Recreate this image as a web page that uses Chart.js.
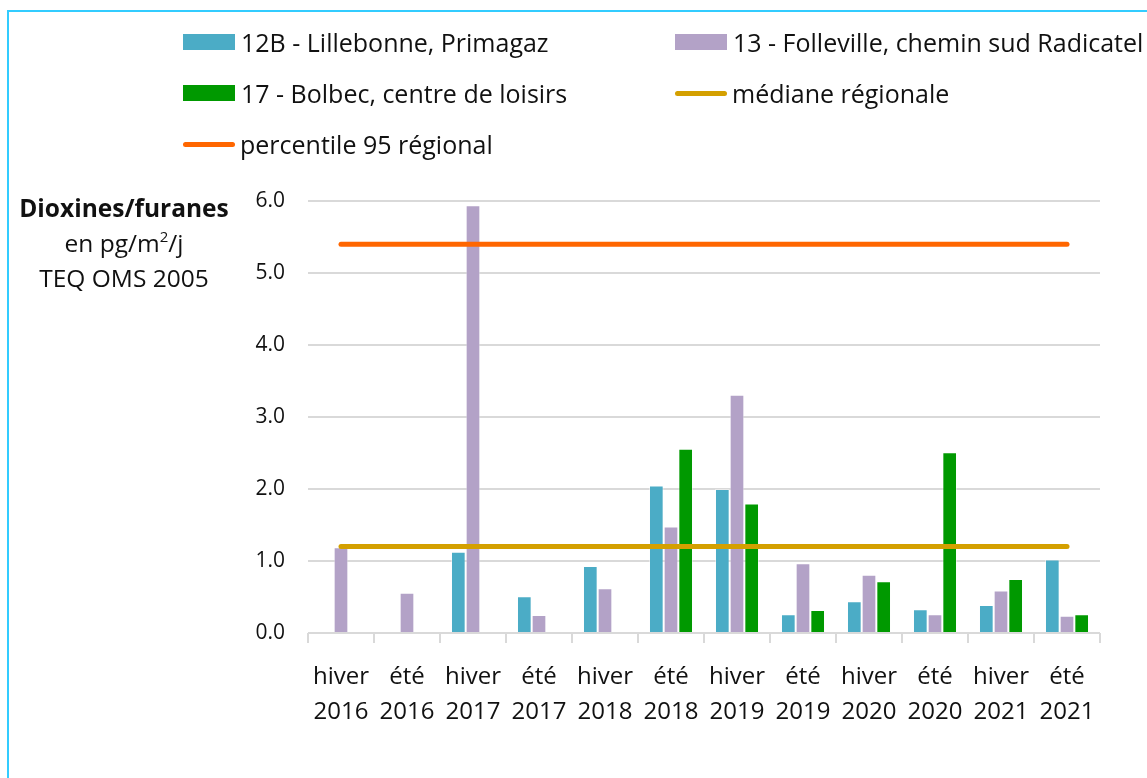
<!DOCTYPE html>
<html>
<head>
<meta charset="utf-8">
<script src="https://cdn.jsdelivr.net/npm/chart.js@4.4.1/dist/chart.umd.min.js"></script>
<style>
  html, body { margin: 0; padding: 0; background: #fff; }
  body { width: 1147px; height: 778px; position: relative; overflow: hidden; font-family: "Open Sans", "Noto Sans", sans-serif; color: #111; }
  #frame { position: absolute; left: 7px; top: 10px; width: 1200px; height: 820px; border-left: 2px solid #3cf; border-top: 2px solid #3cf; box-sizing: border-box; }
  #wrap { position: absolute; left: 0; top: 0; width: 1147px; height: 778px; }
  #legend { position: absolute; left: 0; top: 0; width: 1147px; height: 180px; font-size: 25px; }
  .li { position: absolute; display: flex; align-items: center; white-space: nowrap; }
  .sw-box { width: 52px; height: 16px; margin-right: 6px; }
  .sw-line { width: 52px; height: 5px; border-radius: 3px; margin-right: 5px; }
  #ytitle { position: absolute; left: 12px; top: 190px; width: 224px; text-align: center; font-size: 24.5px; line-height: 35px; }
  #ytitle b { font-weight: 700; }
  sup { font-size: 15px; vertical-align: 10px; line-height: 0; }
</style>
</head>
<body>
<div id="frame"></div>
<div id="wrap"><canvas id="c" width="1147" height="778"></canvas></div>
<div id="legend"></div>
<div id="ytitle"><b>Dioxines/furanes</b><br>en pg/m<sup>2</sup>/j<br>TEQ OMS 2005</div>
<script>
// ---- data ----
const categories = [
  ["hiver","2016"],["été","2016"],["hiver","2017"],["été","2017"],["hiver","2018"],["été","2018"],
  ["hiver","2019"],["été","2019"],["hiver","2020"],["été","2020"],["hiver","2021"],["été","2021"]
];
const seriesNames = ["12B - Lillebonne, Primagaz", "13 - Folleville, chemin sud Radicatel", "17 - Bolbec, centre de loisirs", "médiane régionale", "percentile 95 régional"];
const lillebonne = [null, null, 1.13, 0.51, 0.93, 2.05, 2.00, 0.26, 0.44, 0.33, 0.39, 1.02];
const folleville = [1.19, 0.56, 5.94, 0.25, 0.62, 1.48, 3.31, 0.97, 0.81, 0.26, 0.59, 0.24];
const bolbec     = [null, null, null, null, null, 2.56, 1.80, 0.32, 0.72, 2.51, 0.75, 0.26];
const medianeRegionale = [1.2, 1.2, 1.2, 1.2, 1.2, 1.2, 1.2, 1.2, 1.2, 1.2, 1.2, 1.2];
const percentile95 = [5.4, 5.4, 5.4, 5.4, 5.4, 5.4, 5.4, 5.4, 5.4, 5.4, 5.4, 5.4];
const yTicks = [0, 1, 2, 3, 4, 5, 6];

const colors = ["#4bacc6", "#b3a2c7", "#009900", "#d4a000", "#ff6600"];
const FONT = '"Open Sans", "Noto Sans", sans-serif';

const barCommon = { categoryPercentage: 0.667, barPercentage: 1.0, borderWidth: 1, borderColor: "rgba(255,255,255,0.45)", order: 2 };
const lineCommon = { type: "line", pointRadius: 0, borderWidth: 5, borderCapStyle: "round", fill: false, tension: 0, order: 0 };

const datasets = [
  Object.assign({ label: seriesNames[0], data: lillebonne, backgroundColor: colors[0] }, barCommon),
  Object.assign({ label: seriesNames[1], data: folleville, backgroundColor: colors[1] }, barCommon),
  Object.assign({ label: seriesNames[2], data: bolbec, backgroundColor: colors[2] }, barCommon),
  Object.assign({ label: seriesNames[3], data: medianeRegionale, borderColor: colors[3] }, lineCommon),
  Object.assign({ label: seriesNames[4], data: percentile95, borderColor: colors[4] }, lineCommon)
];

new Chart(document.getElementById("c"), {
  type: "bar",
  data: { labels: categories, datasets },
  options: {
    responsive: false,
    animation: false,
    layout: { padding: { left: 0, right: 47, top: 201, bottom: 0 } },
    plugins: { legend: { display: false }, tooltip: { enabled: false } },
    scales: {
      x: {
        offset: true,
        grid: { display: true, drawOnChartArea: false, drawTicks: true, tickLength: 10, color: "#d9d9d9", lineWidth: 2 },
        border: { display: false },
        ticks: { color: "#111", font: { family: FONT, size: 24, lineHeight: 1.45 }, padding: 17, maxRotation: 0, autoSkip: false },
        afterFit: (s) => { s.height = 145; }
      },
      y: {
        min: 0, max: 6,
        afterBuildTicks: (s) => { s.ticks = yTicks.map(v => ({ value: v })); },
        grid: { color: "#d9d9d9", lineWidth: 2, drawTicks: false },
        border: { display: false },
        ticks: { color: "#111", font: { family: FONT, size: 21 }, padding: 23, callback: (v) => Number(v).toFixed(1) },
        afterFit: (s) => { s.width = 308; }
      }
    }
  }
});

// ---- HTML legend ----
const legendPos = [
  { left: 183, top: 42 }, { left: 675, top: 42 },
  { left: 183, top: 93 }, { left: 675, top: 93 },
  { left: 183, top: 144 }
];
const legendEl = document.getElementById("legend");
seriesNames.forEach((name, i) => {
  const d = document.createElement("div");
  d.className = "li";
  d.style.left = legendPos[i].left + "px";
  d.style.top = (legendPos[i].top - 17) + "px";
  d.style.height = "34px";
  const sw = document.createElement("span");
  sw.className = i < 3 ? "sw-box" : "sw-line";
  sw.style.background = colors[i];
  const t = document.createElement("span");
  t.textContent = name;
  d.appendChild(sw); d.appendChild(t);
  legendEl.appendChild(d);
});
</script>
</body>
</html>
